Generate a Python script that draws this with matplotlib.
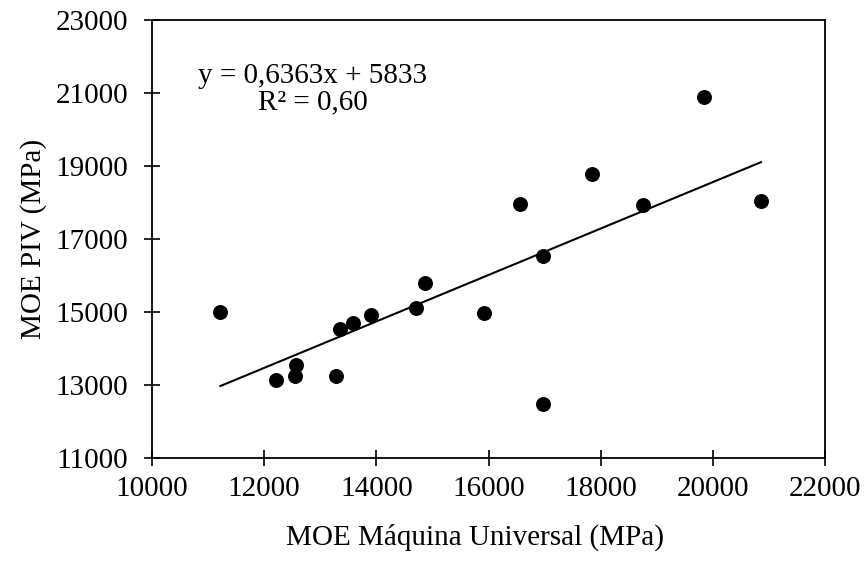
import numpy as np
import matplotlib
matplotlib.use("Agg")
import matplotlib.pyplot as plt

# MOE from universal machine (x) and PIV (y), MPa
moe_maquina = [11220, 12209, 12541, 12559, 13286, 13345, 13589, 13911, 14714,
               14863, 15923, 16554, 16977, 16977, 17850, 18750, 19839, 20857]
moe_piv = [15000, 13127, 13237, 13550, 13247, 14521, 14686, 14909, 15110,
           15781, 14970, 17950, 16538, 12485, 18774, 17930, 20900, 18032]

# trendline as reported on the chart
slope, intercept = 0.6363, 5833

plt.rcParams['font.family'] = ['Liberation Serif', 'DejaVu Serif']

fig = plt.figure(figsize=(8.67, 5.61), dpi=100)
ax = fig.add_axes([152/867, 103/561, 673/867, 438/561])

ax.scatter(moe_maquina, moe_piv, s=95, color='black', zorder=3)

xl = np.array([min(moe_maquina), max(moe_maquina)])
ax.plot(xl, slope * xl + intercept, color='black', lw=1.5)

ax.text(12870, 21100, "y = 0,6363x + 5833\nR² = 0,60", ha='center', va='center',
        multialignment='center', fontsize=21, linespacing=1.0)

ax.set_xlim(10000, 22000)
ax.set_ylim(11000, 23000)
ax.set_xticks(np.arange(10000, 22001, 2000))
ax.set_yticks(np.arange(11000, 23001, 2000))
ax.tick_params(direction='inout', length=12, width=1.2, labelsize=21)
ax.tick_params(axis='x', pad=7)
ax.tick_params(axis='y', pad=11)
for s in ax.spines.values():
    s.set_linewidth(1.3)

ax.set_xlabel("MOE Máquina Universal (MPa)", fontsize=21)
ax.set_ylabel("MOE PIV (MPa)", fontsize=21)
ax.xaxis.set_label_coords(0.48, -0.15)
ax.yaxis.set_label_coords(-0.156, 0.5)

fig.savefig("out.png", dpi=100)
